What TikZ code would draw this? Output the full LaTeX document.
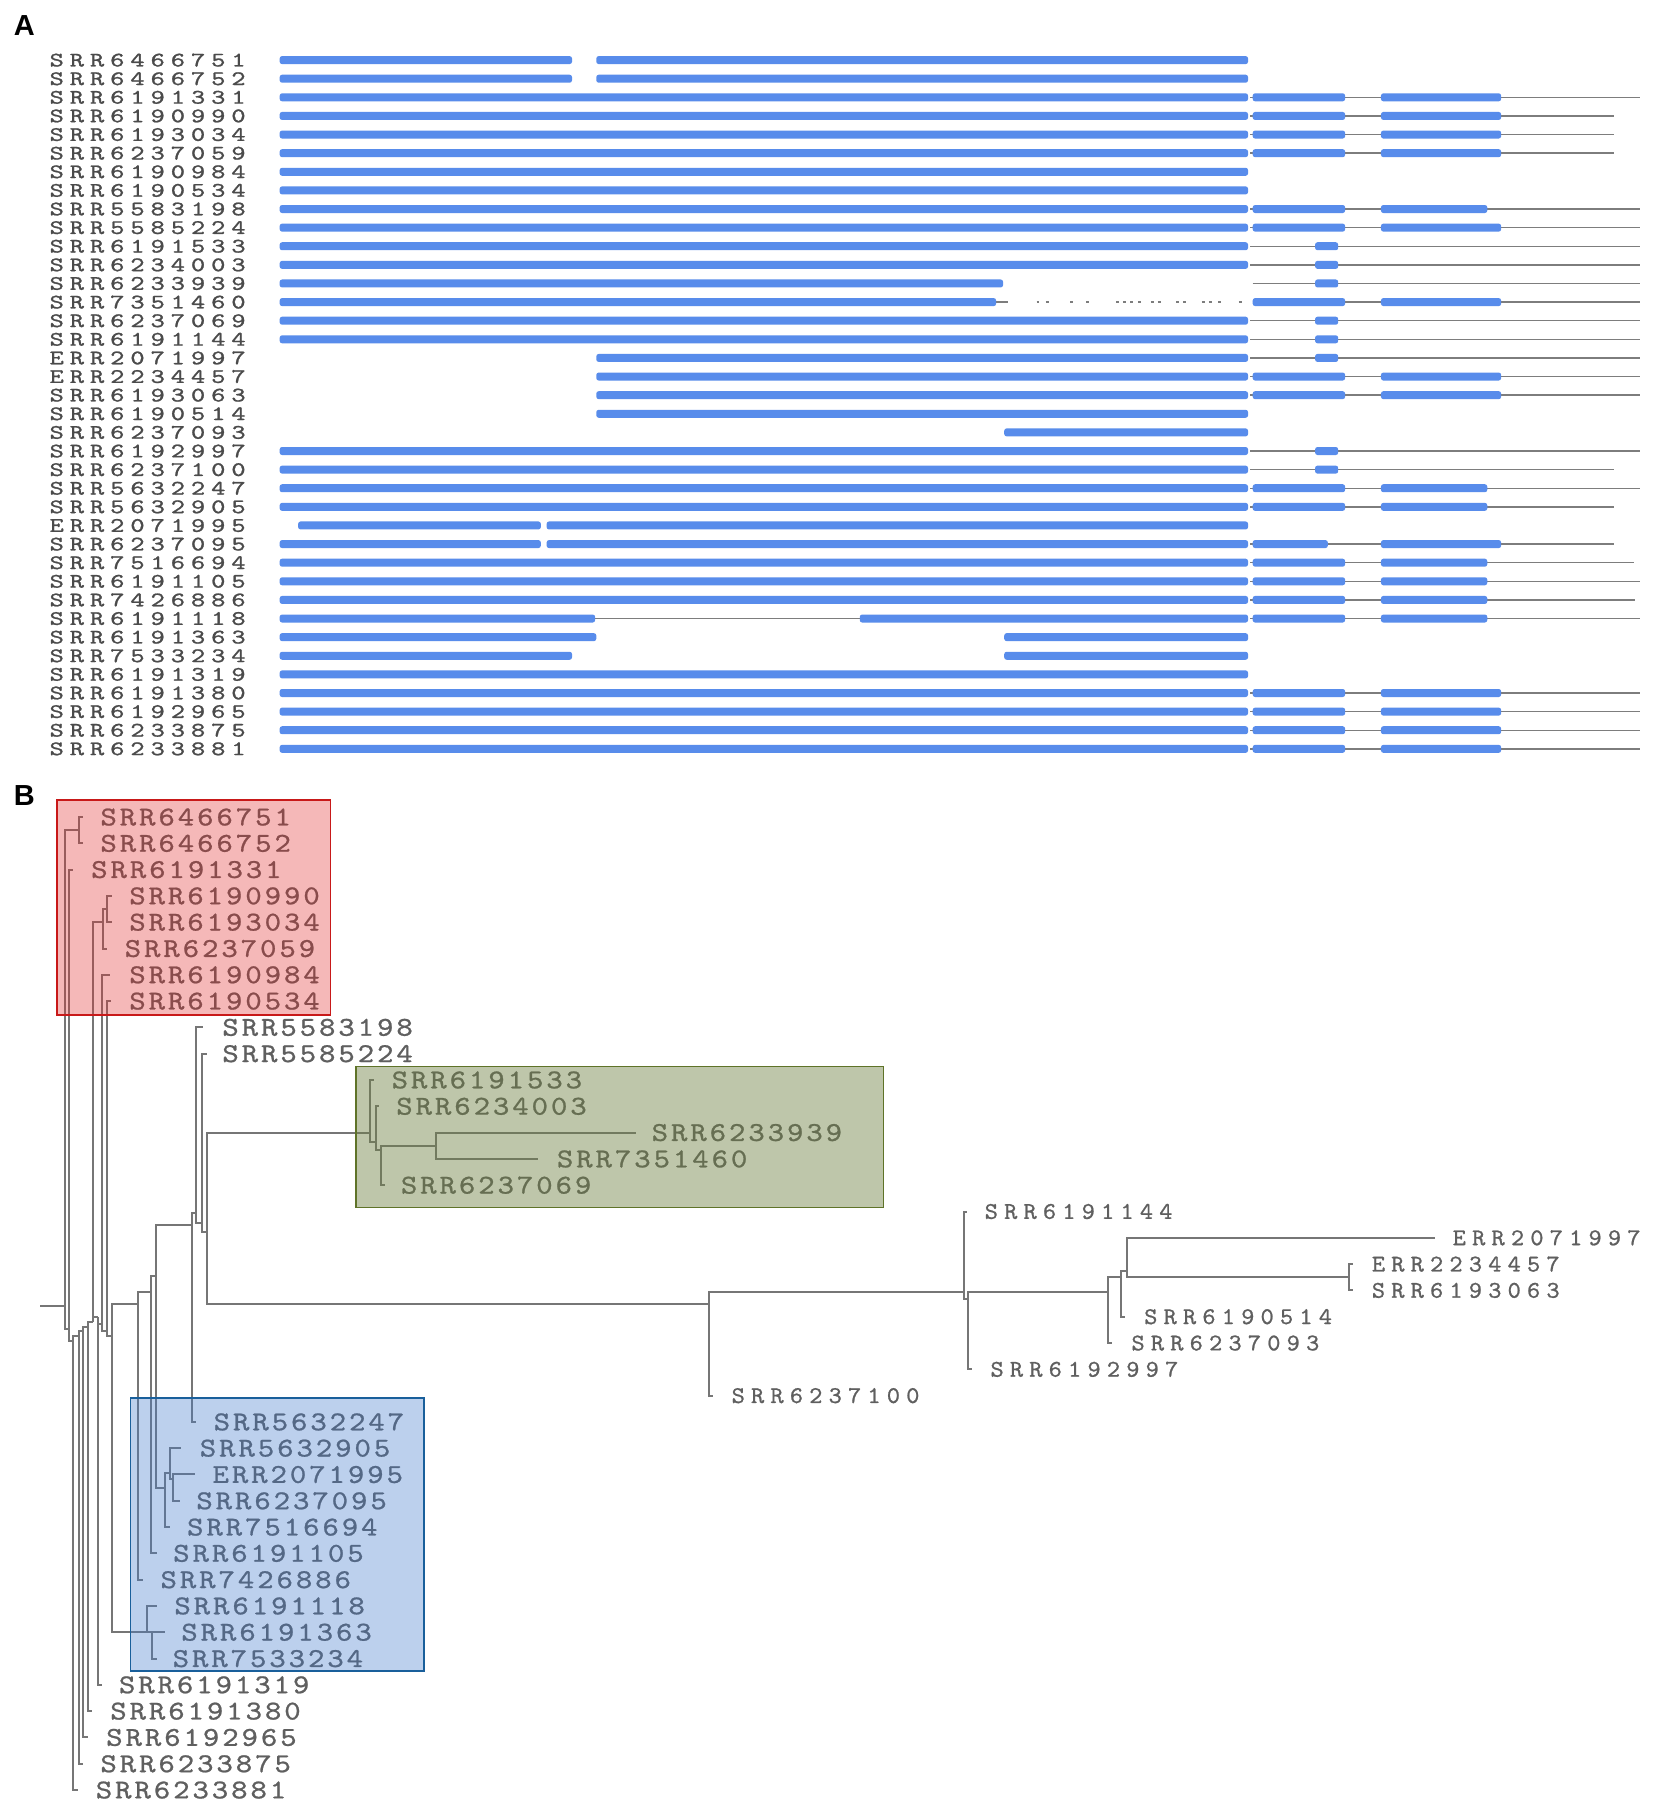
\documentclass[tikz,border=0pt]{standalone}
\usepackage{fontspec}
\usepackage{graphicx}
\newfontfamily\panelfont{Liberation Sans}
\newfontfamily\monoA{lmmono10-regular.otf}[FakeBold=1.0]
\newfontfamily\monoB{lmmono10-regular.otf}[FakeBold=0.8]
\makeatletter
\newcommand\lblloop[1]{\ifx\@nil#1\else\makebox[\lblpitch][c]{\scalebox{\lblscale}[1]{#1}}\expandafter\lblloop\fi}
\newcommand\lblsp[3]{\def\lblpitch{#1}\def\lblscale{#2}\lblloop#3\@nil}
\makeatother
\definecolor{cExon}{RGB}{88,140,235}
\definecolor{cIntron}{RGB}{125,125,125}
\definecolor{cTree}{RGB}{118,118,118}
\definecolor{cLabA}{RGB}{75,75,75}
\definecolor{cLabB}{RGB}{95,95,95}
\definecolor{cRedF}{RGB}{225,40,40}
\definecolor{cRedB}{RGB}{200,25,25}
\definecolor{cGrnF}{RGB}{111,129,67}
\definecolor{cGrnB}{RGB}{95,115,40}
\definecolor{cBluF}{RGB}{64,121,206}
\definecolor{cBluB}{RGB}{25,95,155}
\tikzset{
  exon/.style={fill=cExon, rounded corners=1.2pt},
  intron/.style={draw=cIntron, line width=0.7pt},
  treeline/.style={draw=cTree, line width=1.0pt},
  labA/.style={anchor=west, inner sep=0pt, text=cLabA, font=\monoA\fontsize{10.3}{11}\selectfont},
  labB/.style={anchor=west, inner sep=0pt, text=cLabB, font=\monoB\fontsize{13.6}{14}\selectfont},
  labC/.style={anchor=west, inner sep=0pt, text=cLabB, font=\monoB\fontsize{12}{12}\selectfont},
  panel/.style={inner sep=0pt, font=\panelfont\bfseries\fontsize{14.5}{16}\selectfont}
}
\newcommand\lbA[2]{\node[labA] (a#1) at (40,{52+(#1-1)*16.108}) {\lblsp{10.1pt}{1.32}{#2}};}
\newcommand\lbB[3]{\node[labB] (b#1) at ({#2-2.7},{707+(#1-1)*22.757}) {\lblsp{9.67pt}{1.15}{#3}};}
\newcommand\lbC[3]{\node[labC] (b#1) at ({#2-2.9},{707+(#1-1)*22.757}) {\lblsp{9.7pt}{1.05}{#3}};}
\newcommand\exn[3]{\fill[exon] (#2,{52+(#1-1)*16.108-3.46}) rectangle (#3,{52+(#1-1)*16.108+3.46});}
\newcommand\intr[3]{\draw[intron] (#2,{52+(#1-1)*16.108}) -- (#3,{52+(#1-1)*16.108});}
\newcommand\rowL[2]{\intr{#1}{1082}{#2}\exn{#1}{242}{1080}\exn{#1}{1084}{1164}\exn{#1}{1195}{1299}}
\newcommand\rowS[2]{\intr{#1}{1082}{#2}\exn{#1}{242}{1080}\exn{#1}{1084}{1164}\exn{#1}{1195}{1287}}
\newcommand\rowE[2]{\intr{#1}{1082}{#2}\exn{#1}{242}{1080}\exn{#1}{1138}{1158}}
\begin{document}
\begin{tikzpicture}[x=0.5779pt,y=-0.5779pt]
\useasboundingbox (0,0) rectangle (1431,1568);
\fill[white] (0,0) rectangle (1431,1568);

% ================= Panel A =================
\node[panel] (pA) at (21,22) {A};
\lbA{1}{SRR6466751}
\lbA{2}{SRR6466752}
\lbA{3}{SRR6191331}
\lbA{4}{SRR6190990}
\lbA{5}{SRR6193034}
\lbA{6}{SRR6237059}
\lbA{7}{SRR6190984}
\lbA{8}{SRR6190534}
\lbA{9}{SRR5583198}
\lbA{10}{SRR5585224}
\lbA{11}{SRR6191533}
\lbA{12}{SRR6234003}
\lbA{13}{SRR6233939}
\lbA{14}{SRR7351460}
\lbA{15}{SRR6237069}
\lbA{16}{SRR6191144}
\lbA{17}{ERR2071997}
\lbA{18}{ERR2234457}
\lbA{19}{SRR6193063}
\lbA{20}{SRR6190514}
\lbA{21}{SRR6237093}
\lbA{22}{SRR6192997}
\lbA{23}{SRR6237100}
\lbA{24}{SRR5632247}
\lbA{25}{SRR5632905}
\lbA{26}{ERR2071995}
\lbA{27}{SRR6237095}
\lbA{28}{SRR7516694}
\lbA{29}{SRR6191105}
\lbA{30}{SRR7426886}
\lbA{31}{SRR6191118}
\lbA{32}{SRR6191363}
\lbA{33}{SRR7533234}
\lbA{34}{SRR6191319}
\lbA{35}{SRR6191380}
\lbA{36}{SRR6192965}
\lbA{37}{SRR6233875}
\lbA{38}{SRR6233881}

% rows
\exn{1}{242}{495}\exn{1}{516}{1080}
\exn{2}{242}{495}\exn{2}{516}{1080}
\rowL{3}{1419}
\rowL{4}{1397}
\rowL{5}{1397}
\rowL{6}{1397}
\exn{7}{242}{1080}
\exn{8}{242}{1080}
\rowS{9}{1419}
\rowL{10}{1419}
\rowE{11}{1419}
\rowE{12}{1419}
\intr{13}{1084}{1419}\exn{13}{242}{868}\exn{13}{1138}{1158}
\intr{14}{862}{872}\intr{14}{1084}{1419}\exn{14}{242}{862}\exn{14}{1084}{1164}\exn{14}{1195}{1299}
\foreach \dx in {897,905,926,940,966,972,978,985,996,1002,1018,1024,1040,1046,1054,1072}
  \draw[intron, line width=0.6pt] (\dx,{52+13*16.108}) -- ++(2.5,0);
\rowE{15}{1419}
\rowE{16}{1419}
\intr{17}{1082}{1419}\exn{17}{516}{1080}\exn{17}{1138}{1158}
\intr{18}{1082}{1419}\exn{18}{516}{1080}\exn{18}{1084}{1164}\exn{18}{1195}{1299}
\intr{19}{1082}{1419}\exn{19}{516}{1080}\exn{19}{1084}{1164}\exn{19}{1195}{1299}
\exn{20}{516}{1080}
\exn{21}{869}{1080}
\rowE{22}{1419}
\rowE{23}{1397}
\rowS{24}{1419}
\rowS{25}{1397}
\exn{26}{258}{468}\exn{26}{473}{1080}
\intr{27}{1082}{1397}\exn{27}{242}{468}\exn{27}{473}{1080}\exn{27}{1084}{1149}\exn{27}{1195}{1299}
\rowS{28}{1414}
\rowS{29}{1419}
\rowS{30}{1415}
\intr{31}{515}{744}\intr{31}{1082}{1419}\exn{31}{242}{515}\exn{31}{744}{1080}\exn{31}{1084}{1164}\exn{31}{1195}{1287}
\exn{32}{242}{516}\exn{32}{869}{1080}
\exn{33}{242}{495}\exn{33}{869}{1080}
\exn{34}{242}{1080}
\rowL{35}{1419}
\rowL{36}{1419}
\rowL{37}{1419}
\rowL{38}{1419}

% ================= Panel B =================
\node[panel] (pB) at (21,688) {B};

% --- tree coordinates ---
\coordinate (stub) at (35,1130);
\coordinate (P0) at (56,1130);
\coordinate (c1) at (68,718);
\coordinate (l1) at (72,707);
\coordinate (l2) at (72,729.8);
\coordinate (P1) at (60,1150);
\coordinate (l3) at (63.5,752.5);
\coordinate (P2) at (63.5,1160);
\coordinate (l38) at (67.6,1549);
\coordinate (P3) at (68.6,1156);
\coordinate (l37) at (71.5,1526.2);
\coordinate (P4) at (72,1152);
\coordinate (l36) at (76,1503.5);
\coordinate (P5) at (76.4,1148);
\coordinate (l35) at (79.6,1480.7);
\coordinate (P6) at (80.8,1144);
\coordinate (T3) at (89.4,797.4);
\coordinate (c2) at (92.6,787);
\coordinate (l4) at (96.6,775.3);
\coordinate (l5) at (96.6,798);
\coordinate (l6) at (93,820.8);
\coordinate (P7) at (85,1140);
\coordinate (l34) at (88.5,1458);
\coordinate (P8) at (88,1146);
\coordinate (l7) at (95,843.5);
\coordinate (P9) at (92.3,1152);
\coordinate (l8) at (96,866.3);
\coordinate (P10) at (96.6,1156);
\coordinate (Nb) at (119.5,1128);
\coordinate (l30) at (124,1367);
\coordinate (Nc) at (131,1117.6);
\coordinate (l29) at (135.6,1344.2);
\coordinate (Nd) at (135,1104);
\coordinate (S) at (165.8,1060);
\coordinate (l24) at (169.5,1230.4);
\coordinate (U) at (170,1050);
\coordinate (l9) at (176,889.1);
\coordinate (V) at (174.5,1058);
\coordinate (l10) at (179,911.8);
\coordinate (W) at (178.8,1066);
\coordinate (G0) at (320.5,980);
\coordinate (l11) at (323.6,934.6);
\coordinate (G1) at (325,988);
\coordinate (l12) at (328,957.3);
\coordinate (G2) at (329.7,995);
\coordinate (l15) at (333,1025.6);
\coordinate (G3) at (377.6,991.5);
\coordinate (l13) at (550,980.1);
\coordinate (l14) at (465.5,1002.8);
\coordinate (R1) at (613.4,1128);
\coordinate (l23) at (617,1207.7);
\coordinate (R2) at (834,1117.6);
\coordinate (l16) at (837,1048.4);
\coordinate (R2b) at (838,1124);
\coordinate (l22) at (841,1184.9);
\coordinate (R3) at (958.7,1117.6);
\coordinate (l21) at (962,1162.1);
\coordinate (R4) at (970,1104.6);
\coordinate (l20) at (973.5,1139.4);
\coordinate (R5) at (975,1100);
\coordinate (l17) at (1241.6,1071.1);
\coordinate (R6) at (1167,1105);
\coordinate (l18) at (1171,1093.9);
\coordinate (l19) at (1171,1116.6);
\coordinate (B2) at (142.8,1288);
\coordinate (B3) at (147,1275);
\coordinate (l28) at (147,1321.4);
\coordinate (l25) at (157,1253.2);
\coordinate (B4) at (150,1280);
\coordinate (l26) at (168.7,1275.9);
\coordinate (l27) at (156,1298.7);
\coordinate (C) at (127,1412.5);
\coordinate (l31) at (135.6,1389.7);
\coordinate (C2) at (131.2,1412.5);
\coordinate (l32) at (142.8,1412.5);
\coordinate (l33) at (135.6,1435.2);

% --- tree edges ---
\draw[treeline] (stub) -- (P0);
\draw[treeline] (P0) |- (c1); \draw[treeline] (P0) |- (P1);
\draw[treeline] (c1) |- (l1); \draw[treeline] (c1) |- (l2);
\draw[treeline] (P1) |- (l3); \draw[treeline] (P1) |- (P2);
\draw[treeline] (P2) |- (P3); \draw[treeline] (P2) |- (l38);
\draw[treeline] (P3) |- (P4); \draw[treeline] (P3) |- (l37);
\draw[treeline] (P4) |- (P5); \draw[treeline] (P4) |- (l36);
\draw[treeline] (P5) |- (P6); \draw[treeline] (P5) |- (l35);
\draw[treeline] (P6) |- (T3); \draw[treeline] (P6) |- (P7);
\draw[treeline] (T3) |- (c2); \draw[treeline] (T3) |- (l6);
\draw[treeline] (c2) |- (l4); \draw[treeline] (c2) |- (l5);
\draw[treeline] (P7) |- (P8); \draw[treeline] (P7) |- (l34);
\draw[treeline] (P8) |- (l7); \draw[treeline] (P8) |- (P9);
\draw[treeline] (P9) |- (l8); \draw[treeline] (P9) |- (P10);
\draw[treeline] (P10) |- (Nb); \draw[treeline] (P10) |- (C);
\draw[treeline] (Nb) |- (Nc); \draw[treeline] (Nb) |- (l30);
\draw[treeline] (Nc) |- (Nd); \draw[treeline] (Nc) |- (l29);
\draw[treeline] (Nd) |- (S); \draw[treeline] (Nd) |- (B2);
\draw[treeline] (S) |- (U); \draw[treeline] (S) |- (l24);
\draw[treeline] (U) |- (l9); \draw[treeline] (U) |- (V);
\draw[treeline] (V) |- (l10); \draw[treeline] (V) |- (W);
\draw[treeline] (W) |- (G0); \draw[treeline] (W) |- (R1);
\draw[treeline] (G0) |- (l11); \draw[treeline] (G0) |- (G1);
\draw[treeline] (G1) |- (l12); \draw[treeline] (G1) |- (G2);
\draw[treeline] (G2) |- (G3); \draw[treeline] (G2) |- (l15);
\draw[treeline] (G3) |- (l13); \draw[treeline] (G3) |- (l14);
\draw[treeline] (R1) |- (R2); \draw[treeline] (R1) |- (l23);
\draw[treeline] (R2) |- (l16); \draw[treeline] (R2) |- (R2b);
\draw[treeline] (R2b) |- (R3); \draw[treeline] (R2b) |- (l22);
\draw[treeline] (R3) |- (R4); \draw[treeline] (R3) |- (l21);
\draw[treeline] (R4) |- (R5); \draw[treeline] (R4) |- (l20);
\draw[treeline] (R5) |- (l17); \draw[treeline] (R5) |- (R6);
\draw[treeline] (R6) |- (l18); \draw[treeline] (R6) |- (l19);
\draw[treeline] (B2) |- (B3); \draw[treeline] (B2) |- (l28);
\draw[treeline] (B3) |- (l25); \draw[treeline] (B3) |- (B4);
\draw[treeline] (B4) |- (l26); \draw[treeline] (B4) |- (l27);
\draw[treeline] (C) |- (l31); \draw[treeline] (C) |- (C2);
\draw[treeline] (C2) |- (l32); \draw[treeline] (C2) |- (l33);

% --- leaf labels ---
\lbB{1}{88}{SRR6466751}
\lbB{2}{88}{SRR6466752}
\lbB{3}{80}{SRR6191331}
\lbB{4}{113}{SRR6190990}
\lbB{5}{113}{SRR6193034}
\lbB{6}{109}{SRR6237059}
\lbB{7}{113}{SRR6190984}
\lbB{8}{113}{SRR6190534}
\lbB{9}{193.5}{SRR5583198}
\lbB{10}{193.5}{SRR5585224}
\lbB{11}{340}{SRR6191533}
\lbB{12}{344}{SRR6234003}
\lbB{13}{565}{SRR6233939}
\lbB{14}{483}{SRR7351460}
\lbB{15}{348}{SRR6237069}
\lbC{16}{852}{SRR6191144}
\lbC{17}{1257}{ERR2071997}
\lbC{18}{1187}{ERR2234457}
\lbC{19}{1187}{SRR6193063}
\lbC{20}{990}{SRR6190514}
\lbC{21}{979}{SRR6237093}
\lbC{22}{857}{SRR6192997}
\lbC{23}{633}{SRR6237100}
\lbB{24}{186}{SRR5632247}
\lbB{25}{174}{SRR5632905}
\lbB{26}{185}{ERR2071995}
\lbB{27}{171}{SRR6237095}
\lbB{28}{163}{SRR7516694}
\lbB{29}{151}{SRR6191105}
\lbB{30}{140}{SRR7426886}
\lbB{31}{152}{SRR6191118}
\lbB{32}{158}{SRR6191363}
\lbB{33}{150.5}{SRR7533234}
\lbB{34}{104}{SRR6191319}
\lbB{35}{96.5}{SRR6191380}
\lbB{36}{93}{SRR6192965}
\lbB{37}{88}{SRR6233875}
\lbB{38}{84}{SRR6233881}

% --- clade boxes ---
\fill[cRedF, opacity=0.33] (49.5,692.5) rectangle (286,878.5);
\draw[cRedB, line width=0.9pt] (49.5,692.5) rectangle (286,878.5);
\fill[cGrnF, opacity=0.45] (308,923) rectangle (764.5,1045);
\draw[cGrnB, line width=0.8pt] (308,923) rectangle (764.5,1045);
\fill[cBluF, opacity=0.35] (113,1210) rectangle (367,1446);
\draw[cBluB, line width=0.9pt] (113,1210) rectangle (367,1446);
\end{tikzpicture}
\end{document}
